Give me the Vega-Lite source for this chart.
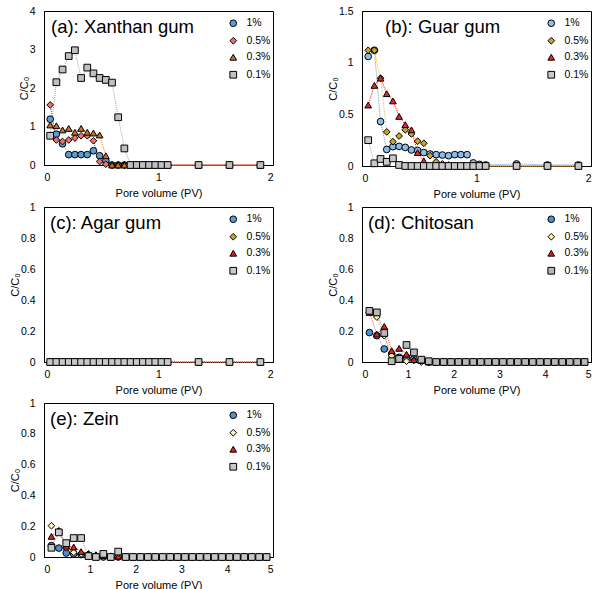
{
"$schema": "https://vega.github.io/schema/vega-lite/v6.json",
"padding": {"left": 8, "top": 5, "right": 0, "bottom": 0},
"background": "white",
"config": {
  "view": {"stroke": "black", "strokeWidth": 1},
  "font": "Liberation Sans",
  "title": {"font": "Liberation Sans", "fontSize": 18.5, "fontWeight": "normal", "color": "black", "anchor": "start", "frame": "group", "offset": 0, "baseline": "alphabetic"},
  "axis": {"domainColor": "black", "labelColor": "black", "titleColor": "black", "ticks": false, "grid": false, "labelFont": "Liberation Sans", "titleFont": "Liberation Sans", "labelFontSize": 10.5, "titleFontSize": 11, "titleFontWeight": "normal", "format": "~g"},
  "axisX": {"labelPadding": 7, "titlePadding": 5},
  "axisY": {"labelPadding": 9, "titlePadding": 0},
  "legend": {"labelFont": "Liberation Sans", "labelFontSize": 10.5, "labelColor": "black", "symbolSize": 45, "symbolStrokeWidth": 1, "symbolStrokeColor": "black", "rowPadding": 5.5, "labelOffset": 8, "padding": 0, "orient": "none", "legendX": 184, "legendY": 7}
},
"datasets": {
"a": [
{"s":"1%","x":0.054,"y":1.19},{"s":"1%","x":0.108,"y":0.8},{"s":"1%","x":0.162,"y":0.55},{"s":"1%","x":0.216,"y":0.27},{"s":"1%","x":0.27,"y":0.27},{"s":"1%","x":0.324,"y":0.27},{"s":"1%","x":0.378,"y":0.27},{"s":"1%","x":0.432,"y":0.37},{"s":"1%","x":0.486,"y":0.24},{"s":"1%","x":0.54,"y":0.11},{"s":"1%","x":0.594,"y":0},{"s":"1%","x":0.648,"y":0},{"s":"1%","x":0.702,"y":0},{"s":"1%","x":0.756,"y":0},{"s":"1%","x":0.81,"y":0},{"s":"1%","x":0.864,"y":0},{"s":"1%","x":0.918,"y":0},{"s":"1%","x":0.972,"y":0},{"s":"1%","x":1.026,"y":0},{"s":"1%","x":1.08,"y":0},{"s":"1%","x":1.35,"y":0},{"s":"1%","x":1.62,"y":0},{"s":"1%","x":1.89,"y":0},
{"s":"0.5%","x":0.054,"y":1.56},{"s":"0.5%","x":0.108,"y":0.65},{"s":"0.5%","x":0.162,"y":0.61},{"s":"0.5%","x":0.216,"y":0.65},{"s":"0.5%","x":0.27,"y":0.7},{"s":"0.5%","x":0.324,"y":0.76},{"s":"0.5%","x":0.378,"y":0.76},{"s":"0.5%","x":0.432,"y":0.63},{"s":"0.5%","x":0.486,"y":0.09},{"s":"0.5%","x":0.54,"y":0.02},{"s":"0.5%","x":0.594,"y":0},{"s":"0.5%","x":0.648,"y":0},{"s":"0.5%","x":0.702,"y":0},{"s":"0.5%","x":0.756,"y":0},{"s":"0.5%","x":0.81,"y":0},{"s":"0.5%","x":0.864,"y":0},{"s":"0.5%","x":0.918,"y":0},{"s":"0.5%","x":0.972,"y":0},{"s":"0.5%","x":1.026,"y":0},{"s":"0.5%","x":1.08,"y":0},{"s":"0.5%","x":1.35,"y":0},{"s":"0.5%","x":1.62,"y":0},{"s":"0.5%","x":1.89,"y":0},
{"s":"0.3%","x":0.054,"y":1.04},{"s":"0.3%","x":0.108,"y":1.02},{"s":"0.3%","x":0.162,"y":0.91},{"s":"0.3%","x":0.216,"y":0.95},{"s":"0.3%","x":0.27,"y":0.85},{"s":"0.3%","x":0.324,"y":0.95},{"s":"0.3%","x":0.378,"y":0.85},{"s":"0.3%","x":0.432,"y":0.83},{"s":"0.3%","x":0.486,"y":0.78},{"s":"0.3%","x":0.54,"y":0.24},{"s":"0.3%","x":0.594,"y":0},{"s":"0.3%","x":0.648,"y":0},{"s":"0.3%","x":0.702,"y":0},{"s":"0.3%","x":0.756,"y":0},{"s":"0.3%","x":0.81,"y":0},{"s":"0.3%","x":0.864,"y":0},{"s":"0.3%","x":0.918,"y":0},{"s":"0.3%","x":0.972,"y":0},{"s":"0.3%","x":1.026,"y":0},{"s":"0.3%","x":1.08,"y":0},{"s":"0.3%","x":1.35,"y":0},{"s":"0.3%","x":1.62,"y":0},{"s":"0.3%","x":1.89,"y":0},
{"s":"0.1%","x":0.054,"y":0.76},{"s":"0.1%","x":0.108,"y":2.15},{"s":"0.1%","x":0.162,"y":2.48},{"s":"0.1%","x":0.216,"y":2.83},{"s":"0.1%","x":0.27,"y":2.98},{"s":"0.1%","x":0.324,"y":2.26},{"s":"0.1%","x":0.378,"y":2.53},{"s":"0.1%","x":0.432,"y":2.38},{"s":"0.1%","x":0.486,"y":2.26},{"s":"0.1%","x":0.54,"y":2.21},{"s":"0.1%","x":0.594,"y":2.14},{"s":"0.1%","x":0.648,"y":1.24},{"s":"0.1%","x":0.702,"y":0.43},{"s":"0.1%","x":0.756,"y":0},{"s":"0.1%","x":0.81,"y":0},{"s":"0.1%","x":0.864,"y":0},{"s":"0.1%","x":0.918,"y":0},{"s":"0.1%","x":0.972,"y":0},{"s":"0.1%","x":1.026,"y":0},{"s":"0.1%","x":1.08,"y":0},{"s":"0.1%","x":1.35,"y":0},{"s":"0.1%","x":1.62,"y":0},{"s":"0.1%","x":1.89,"y":0}
],
"b": [
{"s":"1%","x":0.054,"y":1.06},{"s":"1%","x":0.108,"y":1.12},{"s":"1%","x":0.162,"y":0.43},{"s":"1%","x":0.216,"y":0.16},{"s":"1%","x":0.27,"y":0.187},{"s":"1%","x":0.324,"y":0.19},{"s":"1%","x":0.378,"y":0.18},{"s":"1%","x":0.432,"y":0.155},{"s":"1%","x":0.486,"y":0.15},{"s":"1%","x":0.54,"y":0.13},{"s":"1%","x":0.594,"y":0.116},{"s":"1%","x":0.648,"y":0.11},{"s":"1%","x":0.702,"y":0.106},{"s":"1%","x":0.756,"y":0.1},{"s":"1%","x":0.81,"y":0.11},{"s":"1%","x":0.864,"y":0.11},{"s":"1%","x":0.918,"y":0.11},{"s":"1%","x":0.972,"y":0.03},{"s":"1%","x":1.026,"y":0.016},{"s":"1%","x":1.08,"y":0.01},{"s":"1%","x":1.35,"y":0.02},{"s":"1%","x":1.62,"y":0.01},{"s":"1%","x":1.89,"y":0.01},
{"s":"0.5%","x":0.054,"y":1.12},{"s":"0.5%","x":0.108,"y":1.12},{"s":"0.5%","x":0.162,"y":0.85},{"s":"0.5%","x":0.216,"y":0.33},{"s":"0.5%","x":0.27,"y":0.235},{"s":"0.5%","x":0.324,"y":0.29},{"s":"0.5%","x":0.378,"y":0.35},{"s":"0.5%","x":0.432,"y":0.31},{"s":"0.5%","x":0.486,"y":0.24},{"s":"0.5%","x":0.54,"y":0.22},{"s":"0.5%","x":0.594,"y":0.1},{"s":"0.5%","x":0.648,"y":0.04},{"s":"0.5%","x":0.702,"y":0.02},{"s":"0.5%","x":0.756,"y":0.01},{"s":"0.5%","x":0.81,"y":0},{"s":"0.5%","x":0.864,"y":0},{"s":"0.5%","x":0.918,"y":0},{"s":"0.5%","x":0.972,"y":0},{"s":"0.5%","x":1.026,"y":0},{"s":"0.5%","x":1.08,"y":0},{"s":"0.5%","x":1.35,"y":0},{"s":"0.5%","x":1.62,"y":0},{"s":"0.5%","x":1.89,"y":0},
{"s":"0.3%","x":0.054,"y":0.59},{"s":"0.3%","x":0.108,"y":0.78},{"s":"0.3%","x":0.162,"y":0.85},{"s":"0.3%","x":0.216,"y":0.7},{"s":"0.3%","x":0.27,"y":0.63},{"s":"0.3%","x":0.324,"y":0.48},{"s":"0.3%","x":0.378,"y":0.4},{"s":"0.3%","x":0.432,"y":0.35},{"s":"0.3%","x":0.486,"y":0.13},{"s":"0.3%","x":0.54,"y":0.05},{"s":"0.3%","x":0.594,"y":0},{"s":"0.3%","x":0.648,"y":0},{"s":"0.3%","x":0.702,"y":0},{"s":"0.3%","x":0.756,"y":0},{"s":"0.3%","x":0.81,"y":0},{"s":"0.3%","x":0.864,"y":0},{"s":"0.3%","x":0.918,"y":0},{"s":"0.3%","x":0.972,"y":0},{"s":"0.3%","x":1.026,"y":0},{"s":"0.3%","x":1.08,"y":0},{"s":"0.3%","x":1.35,"y":0},{"s":"0.3%","x":1.62,"y":0},{"s":"0.3%","x":1.89,"y":0},
{"s":"0.1%","x":0.054,"y":0.25},{"s":"0.1%","x":0.108,"y":0.026},{"s":"0.1%","x":0.162,"y":0.068},{"s":"0.1%","x":0.216,"y":0.04},{"s":"0.1%","x":0.27,"y":0.074},{"s":"0.1%","x":0.324,"y":0.01},{"s":"0.1%","x":0.378,"y":0},{"s":"0.1%","x":0.432,"y":0},{"s":"0.1%","x":0.486,"y":0},{"s":"0.1%","x":0.54,"y":0},{"s":"0.1%","x":0.594,"y":0},{"s":"0.1%","x":0.648,"y":0},{"s":"0.1%","x":0.702,"y":0},{"s":"0.1%","x":0.756,"y":0},{"s":"0.1%","x":0.81,"y":0},{"s":"0.1%","x":0.864,"y":0},{"s":"0.1%","x":0.918,"y":0},{"s":"0.1%","x":0.972,"y":0},{"s":"0.1%","x":1.026,"y":0},{"s":"0.1%","x":1.08,"y":0},{"s":"0.1%","x":1.35,"y":0},{"s":"0.1%","x":1.62,"y":0},{"s":"0.1%","x":1.89,"y":0}
],
"c": [
{"s":"1%","x":0.054,"y":0},{"s":"1%","x":0.108,"y":0},{"s":"1%","x":0.162,"y":0},{"s":"1%","x":0.216,"y":0},{"s":"1%","x":0.27,"y":0},{"s":"1%","x":0.324,"y":0},{"s":"1%","x":0.378,"y":0},{"s":"1%","x":0.432,"y":0},{"s":"1%","x":0.486,"y":0},{"s":"1%","x":0.54,"y":0},{"s":"1%","x":0.594,"y":0},{"s":"1%","x":0.648,"y":0},{"s":"1%","x":0.702,"y":0},{"s":"1%","x":0.756,"y":0},{"s":"1%","x":0.81,"y":0},{"s":"1%","x":0.864,"y":0},{"s":"1%","x":0.918,"y":0},{"s":"1%","x":0.972,"y":0},{"s":"1%","x":1.026,"y":0},{"s":"1%","x":1.08,"y":0},{"s":"1%","x":1.35,"y":0},{"s":"1%","x":1.62,"y":0},{"s":"1%","x":1.89,"y":0},
{"s":"0.5%","x":0.054,"y":0},{"s":"0.5%","x":0.108,"y":0},{"s":"0.5%","x":0.162,"y":0},{"s":"0.5%","x":0.216,"y":0},{"s":"0.5%","x":0.27,"y":0},{"s":"0.5%","x":0.324,"y":0},{"s":"0.5%","x":0.378,"y":0},{"s":"0.5%","x":0.432,"y":0},{"s":"0.5%","x":0.486,"y":0},{"s":"0.5%","x":0.54,"y":0},{"s":"0.5%","x":0.594,"y":0},{"s":"0.5%","x":0.648,"y":0},{"s":"0.5%","x":0.702,"y":0},{"s":"0.5%","x":0.756,"y":0},{"s":"0.5%","x":0.81,"y":0},{"s":"0.5%","x":0.864,"y":0},{"s":"0.5%","x":0.918,"y":0},{"s":"0.5%","x":0.972,"y":0},{"s":"0.5%","x":1.026,"y":0},{"s":"0.5%","x":1.08,"y":0},{"s":"0.5%","x":1.35,"y":0},{"s":"0.5%","x":1.62,"y":0},{"s":"0.5%","x":1.89,"y":0},
{"s":"0.3%","x":0.054,"y":0},{"s":"0.3%","x":0.108,"y":0},{"s":"0.3%","x":0.162,"y":0},{"s":"0.3%","x":0.216,"y":0},{"s":"0.3%","x":0.27,"y":0},{"s":"0.3%","x":0.324,"y":0},{"s":"0.3%","x":0.378,"y":0},{"s":"0.3%","x":0.432,"y":0},{"s":"0.3%","x":0.486,"y":0},{"s":"0.3%","x":0.54,"y":0},{"s":"0.3%","x":0.594,"y":0},{"s":"0.3%","x":0.648,"y":0},{"s":"0.3%","x":0.702,"y":0},{"s":"0.3%","x":0.756,"y":0},{"s":"0.3%","x":0.81,"y":0},{"s":"0.3%","x":0.864,"y":0},{"s":"0.3%","x":0.918,"y":0},{"s":"0.3%","x":0.972,"y":0},{"s":"0.3%","x":1.026,"y":0},{"s":"0.3%","x":1.08,"y":0},{"s":"0.3%","x":1.35,"y":0},{"s":"0.3%","x":1.62,"y":0},{"s":"0.3%","x":1.89,"y":0},
{"s":"0.1%","x":0.054,"y":0},{"s":"0.1%","x":0.108,"y":0},{"s":"0.1%","x":0.162,"y":0},{"s":"0.1%","x":0.216,"y":0},{"s":"0.1%","x":0.27,"y":0},{"s":"0.1%","x":0.324,"y":0},{"s":"0.1%","x":0.378,"y":0},{"s":"0.1%","x":0.432,"y":0},{"s":"0.1%","x":0.486,"y":0},{"s":"0.1%","x":0.54,"y":0},{"s":"0.1%","x":0.594,"y":0},{"s":"0.1%","x":0.648,"y":0},{"s":"0.1%","x":0.702,"y":0},{"s":"0.1%","x":0.756,"y":0},{"s":"0.1%","x":0.81,"y":0},{"s":"0.1%","x":0.864,"y":0},{"s":"0.1%","x":0.918,"y":0},{"s":"0.1%","x":0.972,"y":0},{"s":"0.1%","x":1.026,"y":0},{"s":"0.1%","x":1.08,"y":0},{"s":"0.1%","x":1.35,"y":0},{"s":"0.1%","x":1.62,"y":0},{"s":"0.1%","x":1.89,"y":0}
],
"d": [
{"s":"1%","x":0.162,"y":0.19},{"s":"1%","x":0.324,"y":0.17},{"s":"1%","x":0.486,"y":0.084},{"s":"1%","x":0.648,"y":0.05},{"s":"1%","x":0.81,"y":0.03},{"s":"1%","x":0.972,"y":0.03},{"s":"1%","x":1.134,"y":0.02},{"s":"1%","x":1.296,"y":0.01},{"s":"1%","x":1.458,"y":0},{"s":"1%","x":1.62,"y":0},{"s":"1%","x":1.782,"y":0},{"s":"1%","x":1.944,"y":0},{"s":"1%","x":2.106,"y":0},{"s":"1%","x":2.268,"y":0},{"s":"1%","x":2.43,"y":0},{"s":"1%","x":2.592,"y":0},{"s":"1%","x":2.754,"y":0},{"s":"1%","x":2.916,"y":0},{"s":"1%","x":3.078,"y":0},{"s":"1%","x":3.24,"y":0},{"s":"1%","x":3.402,"y":0},{"s":"1%","x":3.564,"y":0},{"s":"1%","x":3.726,"y":0},{"s":"1%","x":3.888,"y":0},{"s":"1%","x":4.05,"y":0},{"s":"1%","x":4.212,"y":0},{"s":"1%","x":4.374,"y":0},{"s":"1%","x":4.536,"y":0},{"s":"1%","x":4.698,"y":0},{"s":"1%","x":4.86,"y":0},
{"s":"0.5%","x":0.162,"y":0.32},{"s":"0.5%","x":0.324,"y":0.29},{"s":"0.5%","x":0.486,"y":0.17},{"s":"0.5%","x":0.648,"y":0.04},{"s":"0.5%","x":0.81,"y":0.015},{"s":"0.5%","x":0.972,"y":0.005},{"s":"0.5%","x":1.134,"y":0.01},{"s":"0.5%","x":1.296,"y":0},{"s":"0.5%","x":1.458,"y":0},{"s":"0.5%","x":1.62,"y":0},{"s":"0.5%","x":1.782,"y":0},{"s":"0.5%","x":1.944,"y":0},{"s":"0.5%","x":2.106,"y":0},{"s":"0.5%","x":2.268,"y":0},{"s":"0.5%","x":2.43,"y":0},{"s":"0.5%","x":2.592,"y":0},{"s":"0.5%","x":2.754,"y":0},{"s":"0.5%","x":2.916,"y":0},{"s":"0.5%","x":3.078,"y":0},{"s":"0.5%","x":3.24,"y":0},{"s":"0.5%","x":3.402,"y":0},{"s":"0.5%","x":3.564,"y":0},{"s":"0.5%","x":3.726,"y":0},{"s":"0.5%","x":3.888,"y":0},{"s":"0.5%","x":4.05,"y":0},{"s":"0.5%","x":4.212,"y":0},{"s":"0.5%","x":4.374,"y":0},{"s":"0.5%","x":4.536,"y":0},{"s":"0.5%","x":4.698,"y":0},{"s":"0.5%","x":4.86,"y":0},
{"s":"0.3%","x":0.162,"y":0.32},{"s":"0.3%","x":0.324,"y":0.18},{"s":"0.3%","x":0.486,"y":0.23},{"s":"0.3%","x":0.648,"y":0.073},{"s":"0.3%","x":0.81,"y":0.088},{"s":"0.3%","x":0.972,"y":0.05},{"s":"0.3%","x":1.134,"y":0.015},{"s":"0.3%","x":1.296,"y":0.01},{"s":"0.3%","x":1.458,"y":0},{"s":"0.3%","x":1.62,"y":0},{"s":"0.3%","x":1.782,"y":0},{"s":"0.3%","x":1.944,"y":0},{"s":"0.3%","x":2.106,"y":0},{"s":"0.3%","x":2.268,"y":0},{"s":"0.3%","x":2.43,"y":0},{"s":"0.3%","x":2.592,"y":0},{"s":"0.3%","x":2.754,"y":0},{"s":"0.3%","x":2.916,"y":0},{"s":"0.3%","x":3.078,"y":0},{"s":"0.3%","x":3.24,"y":0},{"s":"0.3%","x":3.402,"y":0},{"s":"0.3%","x":3.564,"y":0},{"s":"0.3%","x":3.726,"y":0},{"s":"0.3%","x":3.888,"y":0},{"s":"0.3%","x":4.05,"y":0},{"s":"0.3%","x":4.212,"y":0},{"s":"0.3%","x":4.374,"y":0},{"s":"0.3%","x":4.536,"y":0},{"s":"0.3%","x":4.698,"y":0},{"s":"0.3%","x":4.86,"y":0},
{"s":"0.1%","x":0.162,"y":0.33},{"s":"0.1%","x":0.324,"y":0.32},{"s":"0.1%","x":0.486,"y":0.187},{"s":"0.1%","x":0.648,"y":0.005},{"s":"0.1%","x":0.81,"y":0.02},{"s":"0.1%","x":0.972,"y":0.11},{"s":"0.1%","x":1.134,"y":0.062},{"s":"0.1%","x":1.296,"y":0.015},{"s":"0.1%","x":1.458,"y":0.005},{"s":"0.1%","x":1.62,"y":0},{"s":"0.1%","x":1.782,"y":0},{"s":"0.1%","x":1.944,"y":0},{"s":"0.1%","x":2.106,"y":0},{"s":"0.1%","x":2.268,"y":0},{"s":"0.1%","x":2.43,"y":0},{"s":"0.1%","x":2.592,"y":0},{"s":"0.1%","x":2.754,"y":0},{"s":"0.1%","x":2.916,"y":0},{"s":"0.1%","x":3.078,"y":0},{"s":"0.1%","x":3.24,"y":0},{"s":"0.1%","x":3.402,"y":0},{"s":"0.1%","x":3.564,"y":0},{"s":"0.1%","x":3.726,"y":0},{"s":"0.1%","x":3.888,"y":0},{"s":"0.1%","x":4.05,"y":0},{"s":"0.1%","x":4.212,"y":0},{"s":"0.1%","x":4.374,"y":0},{"s":"0.1%","x":4.536,"y":0},{"s":"0.1%","x":4.698,"y":0},{"s":"0.1%","x":4.86,"y":0}
],
"e": [
{"s":"1%","x":0.162,"y":0.074},{"s":"1%","x":0.324,"y":0.058},{"s":"1%","x":0.486,"y":0.026},{"s":"1%","x":0.648,"y":0.02},{"s":"1%","x":0.81,"y":0.015},{"s":"1%","x":0.972,"y":0.01},{"s":"1%","x":1.134,"y":0.005},{"s":"1%","x":1.296,"y":0},{"s":"1%","x":1.458,"y":0},{"s":"1%","x":1.62,"y":0},{"s":"1%","x":1.782,"y":0},{"s":"1%","x":1.944,"y":0},{"s":"1%","x":2.106,"y":0},{"s":"1%","x":2.268,"y":0},{"s":"1%","x":2.43,"y":0},{"s":"1%","x":2.592,"y":0},{"s":"1%","x":2.754,"y":0},{"s":"1%","x":2.916,"y":0},{"s":"1%","x":3.078,"y":0},{"s":"1%","x":3.24,"y":0},{"s":"1%","x":3.402,"y":0},{"s":"1%","x":3.564,"y":0},{"s":"1%","x":3.726,"y":0},{"s":"1%","x":3.888,"y":0},{"s":"1%","x":4.05,"y":0},{"s":"1%","x":4.212,"y":0},{"s":"1%","x":4.374,"y":0},{"s":"1%","x":4.536,"y":0},{"s":"1%","x":4.698,"y":0},{"s":"1%","x":4.86,"y":0},
{"s":"0.5%","x":0.162,"y":0.203},{"s":"0.5%","x":0.324,"y":0.17},{"s":"0.5%","x":0.486,"y":0.06},{"s":"0.5%","x":0.648,"y":0.03},{"s":"0.5%","x":0.81,"y":0.02},{"s":"0.5%","x":0.972,"y":0.02},{"s":"0.5%","x":1.134,"y":0.01},{"s":"0.5%","x":1.296,"y":0.01},{"s":"0.5%","x":1.458,"y":0.005},{"s":"0.5%","x":1.62,"y":0.005},{"s":"0.5%","x":1.782,"y":0},{"s":"0.5%","x":1.944,"y":0},{"s":"0.5%","x":2.106,"y":0},{"s":"0.5%","x":2.268,"y":0},{"s":"0.5%","x":2.43,"y":0},{"s":"0.5%","x":2.592,"y":0},{"s":"0.5%","x":2.754,"y":0},{"s":"0.5%","x":2.916,"y":0},{"s":"0.5%","x":3.078,"y":0},{"s":"0.5%","x":3.24,"y":0},{"s":"0.5%","x":3.402,"y":0},{"s":"0.5%","x":3.564,"y":0},{"s":"0.5%","x":3.726,"y":0},{"s":"0.5%","x":3.888,"y":0},{"s":"0.5%","x":4.05,"y":0},{"s":"0.5%","x":4.212,"y":0},{"s":"0.5%","x":4.374,"y":0},{"s":"0.5%","x":4.536,"y":0},{"s":"0.5%","x":4.698,"y":0},{"s":"0.5%","x":4.86,"y":0},
{"s":"0.3%","x":0.162,"y":0.134},{"s":"0.3%","x":0.324,"y":0.17},{"s":"0.3%","x":0.486,"y":0.07},{"s":"0.3%","x":0.648,"y":0.065},{"s":"0.3%","x":0.81,"y":0.035},{"s":"0.3%","x":0.972,"y":0.02},{"s":"0.3%","x":1.134,"y":0.015},{"s":"0.3%","x":1.296,"y":0.01},{"s":"0.3%","x":1.458,"y":0},{"s":"0.3%","x":1.62,"y":0.005},{"s":"0.3%","x":1.782,"y":0},{"s":"0.3%","x":1.944,"y":0},{"s":"0.3%","x":2.106,"y":0},{"s":"0.3%","x":2.268,"y":0},{"s":"0.3%","x":2.43,"y":0},{"s":"0.3%","x":2.592,"y":0},{"s":"0.3%","x":2.754,"y":0},{"s":"0.3%","x":2.916,"y":0},{"s":"0.3%","x":3.078,"y":0},{"s":"0.3%","x":3.24,"y":0},{"s":"0.3%","x":3.402,"y":0},{"s":"0.3%","x":3.564,"y":0},{"s":"0.3%","x":3.726,"y":0},{"s":"0.3%","x":3.888,"y":0},{"s":"0.3%","x":4.05,"y":0},{"s":"0.3%","x":4.212,"y":0},{"s":"0.3%","x":4.374,"y":0},{"s":"0.3%","x":4.536,"y":0},{"s":"0.3%","x":4.698,"y":0},{"s":"0.3%","x":4.86,"y":0},
{"s":"0.1%","x":0.162,"y":0.06},{"s":"0.1%","x":0.324,"y":0.16},{"s":"0.1%","x":0.486,"y":0.09},{"s":"0.1%","x":0.648,"y":0.123},{"s":"0.1%","x":0.81,"y":0.123},{"s":"0.1%","x":0.972,"y":0.006},{"s":"0.1%","x":1.134,"y":0},{"s":"0.1%","x":1.296,"y":0.02},{"s":"0.1%","x":1.458,"y":0},{"s":"0.1%","x":1.62,"y":0.035},{"s":"0.1%","x":1.782,"y":0},{"s":"0.1%","x":1.944,"y":0},{"s":"0.1%","x":2.106,"y":0},{"s":"0.1%","x":2.268,"y":0},{"s":"0.1%","x":2.43,"y":0},{"s":"0.1%","x":2.592,"y":0},{"s":"0.1%","x":2.754,"y":0},{"s":"0.1%","x":2.916,"y":0},{"s":"0.1%","x":3.078,"y":0},{"s":"0.1%","x":3.24,"y":0},{"s":"0.1%","x":3.402,"y":0},{"s":"0.1%","x":3.564,"y":0},{"s":"0.1%","x":3.726,"y":0},{"s":"0.1%","x":3.888,"y":0},{"s":"0.1%","x":4.05,"y":0},{"s":"0.1%","x":4.212,"y":0},{"s":"0.1%","x":4.374,"y":0},{"s":"0.1%","x":4.536,"y":0},{"s":"0.1%","x":4.698,"y":0},{"s":"0.1%","x":4.86,"y":0}
]
},
"columns": 2,
"spacing": {"column": 52, "row": 1},
"resolve": {"scale": {"x": "independent", "y": "independent", "color": "independent", "stroke": "independent", "shape": "independent"}},
"concat": [
{
 "width": 229, "height": 154,
 "data": {"name": "a"},
 "title": {"text": "(a): Xanthan gum", "dx": 7, "dy": 34},
 "encoding": {
  "x": {"field": "x", "type": "quantitative", "scale": {"domain": [0, 2], "nice": false}, "axis": {"values": [0, 1, 2], "title": "Pore volume (PV)"}},
  "y": {"field": "y", "type": "quantitative", "scale": {"domain": [0, 4], "nice": false}, "axis": {"values": [0, 1, 2, 3, 4], "title": "C/C₀"}}
 },
 "layer": [
  {"mark": {"type": "line", "strokeDash": [1, 1], "strokeWidth": 1},
   "encoding": {"stroke": {"field": "s", "type": "nominal", "scale": {"domain": ["0.1%", "0.3%", "0.5%", "1%"], "range": ["#a6a6a6", "#ed7d31", "#ff0000", "#5b9bd5"]}, "legend": null}}},
  {"mark": {"type": "point", "filled": true, "stroke": "black", "strokeWidth": 1, "size": 45, "opacity": 1},
   "encoding": {
    "shape": {"field": "s", "type": "nominal", "scale": {"domain": ["1%", "0.5%", "0.3%", "0.1%"], "range": ["circle", "diamond", "triangle-up", "square"]}, "legend": {"title": null}},
    "color": {"field": "s", "type": "nominal", "scale": {"domain": ["1%", "0.5%", "0.3%", "0.1%"], "range": ["#5b9bd5", "#f07070", "#c5752e", "#c0c0c0"]}, "legend": {"title": null}}
   }}
 ]
},
{
 "width": 229, "height": 155,
 "data": {"name": "b"},
 "title": {"text": "(b): Guar gum", "dx": 23, "dy": 34},
 "encoding": {
  "x": {"field": "x", "type": "quantitative", "scale": {"domain": [0, 2], "nice": false}, "axis": {"values": [0, 1, 2], "title": "Pore volume (PV)"}},
  "y": {"field": "y", "type": "quantitative", "scale": {"domain": [0, 1.5], "nice": false}, "axis": {"values": [0, 0.5, 1, 1.5], "title": "C/C₀"}}
 },
 "layer": [
  {"mark": {"type": "line", "strokeDash": [1, 1], "strokeWidth": 1},
   "encoding": {"stroke": {"field": "s", "type": "nominal", "scale": {"domain": ["0.1%", "0.3%", "0.5%", "1%"], "range": ["#a6a6a6", "#ff0000", "#ffc000", "#5b9bd5"]}, "legend": null}}},
  {"mark": {"type": "point", "filled": true, "stroke": "black", "strokeWidth": 1, "size": 45, "opacity": 1},
   "encoding": {
    "shape": {"field": "s", "type": "nominal", "scale": {"domain": ["1%", "0.5%", "0.3%", "0.1%"], "range": ["circle", "diamond", "triangle-up", "square"]}, "legend": {"title": null}},
    "color": {"field": "s", "type": "nominal", "scale": {"domain": ["1%", "0.5%", "0.3%", "0.1%"], "range": ["#8cbce8", "#c9a230", "#e8262b", "#c8c8c8"]}, "legend": {"title": null}}
   }}
 ]
},
{
 "width": 229, "height": 155,
 "data": {"name": "c"},
 "title": {"text": "(c): Agar gum", "dx": 6, "dy": 34},
 "encoding": {
  "x": {"field": "x", "type": "quantitative", "scale": {"domain": [0, 2], "nice": false}, "axis": {"values": [0, 1, 2], "title": "Pore volume (PV)"}},
  "y": {"field": "y", "type": "quantitative", "scale": {"domain": [0, 1], "nice": false}, "axis": {"values": [0, 0.2, 0.4, 0.6, 0.8, 1], "title": "C/C₀"}}
 },
 "layer": [
  {"mark": {"type": "line", "strokeDash": [1, 1], "strokeWidth": 1},
   "encoding": {"stroke": {"field": "s", "type": "nominal", "scale": {"domain": ["0.1%", "0.3%", "0.5%", "1%"], "range": ["#a6a6a6", "#ff0000", "#bf9000", "#5b9bd5"]}, "legend": null}}},
  {"mark": {"type": "point", "filled": true, "stroke": "black", "strokeWidth": 1, "size": 45, "opacity": 1},
   "encoding": {
    "shape": {"field": "s", "type": "nominal", "scale": {"domain": ["1%", "0.5%", "0.3%", "0.1%"], "range": ["circle", "diamond", "triangle-up", "square"]}, "legend": {"title": null}},
    "color": {"field": "s", "type": "nominal", "scale": {"domain": ["1%", "0.5%", "0.3%", "0.1%"], "range": ["#5b9bd5", "#c9a230", "#e02020", "#c8c8c8"]}, "legend": {"title": null}}
   }}
 ]
},
{
 "width": 229, "height": 155,
 "data": {"name": "d"},
 "title": {"text": "(d): Chitosan", "dx": 6, "dy": 34},
 "encoding": {
  "x": {"field": "x", "type": "quantitative", "scale": {"domain": [0, 5], "nice": false}, "axis": {"values": [0, 1, 2, 3, 4, 5], "title": "Pore volume (PV)"}},
  "y": {"field": "y", "type": "quantitative", "scale": {"domain": [0, 1], "nice": false}, "axis": {"values": [0, 0.2, 0.4, 0.6, 0.8, 1], "title": "C/C₀"}}
 },
 "layer": [
  {"mark": {"type": "line", "strokeDash": [1, 1], "strokeWidth": 1},
   "encoding": {"stroke": {"field": "s", "type": "nominal", "scale": {"domain": ["0.1%", "0.3%", "0.5%", "1%"], "range": ["#a6a6a6", "#ff6060", "#c9a86a", "#5b9bd5"]}, "legend": null}}},
  {"mark": {"type": "point", "filled": true, "stroke": "black", "strokeWidth": 1, "size": 45, "opacity": 1},
   "encoding": {
    "shape": {"field": "s", "type": "nominal", "scale": {"domain": ["1%", "0.5%", "0.3%", "0.1%"], "range": ["circle", "diamond", "triangle-up", "square"]}, "legend": {"title": null}},
    "color": {"field": "s", "type": "nominal", "scale": {"domain": ["1%", "0.5%", "0.3%", "0.1%"], "range": ["#4f8fd0", "#fff0a0", "#e02020", "#b8b8b8"]}, "legend": {"title": null}}
   }}
 ]
},
{
 "width": 229, "height": 154,
 "data": {"name": "e"},
 "title": {"text": "(e): Zein", "dx": 6, "dy": 34},
 "encoding": {
  "x": {"field": "x", "type": "quantitative", "scale": {"domain": [0, 5], "nice": false}, "axis": {"values": [0, 1, 2, 3, 4, 5], "title": "Pore volume (PV)"}},
  "y": {"field": "y", "type": "quantitative", "scale": {"domain": [0, 1], "nice": false}, "axis": {"values": [0, 0.2, 0.4, 0.6, 0.8, 1], "title": "C/C₀"}}
 },
 "layer": [
  {"mark": {"type": "line", "strokeDash": [1, 1], "strokeWidth": 1},
   "encoding": {"stroke": {"field": "s", "type": "nominal", "scale": {"domain": ["0.1%", "0.3%", "0.5%", "1%"], "range": ["#a6a6a6", "#ff0000", "#ffc000", "#5b9bd5"]}, "legend": null}}},
  {"mark": {"type": "point", "filled": true, "stroke": "black", "strokeWidth": 1, "size": 45, "opacity": 1},
   "encoding": {
    "shape": {"field": "s", "type": "nominal", "scale": {"domain": ["1%", "0.5%", "0.3%", "0.1%"], "range": ["circle", "diamond", "triangle-up", "square"]}, "legend": {"title": null}},
    "color": {"field": "s", "type": "nominal", "scale": {"domain": ["1%", "0.5%", "0.3%", "0.1%"], "range": ["#4f8fd0", "#fff0b0", "#e02020", "#c8c8c8"]}, "legend": {"title": null}}
   }}
 ]
}
]
}
